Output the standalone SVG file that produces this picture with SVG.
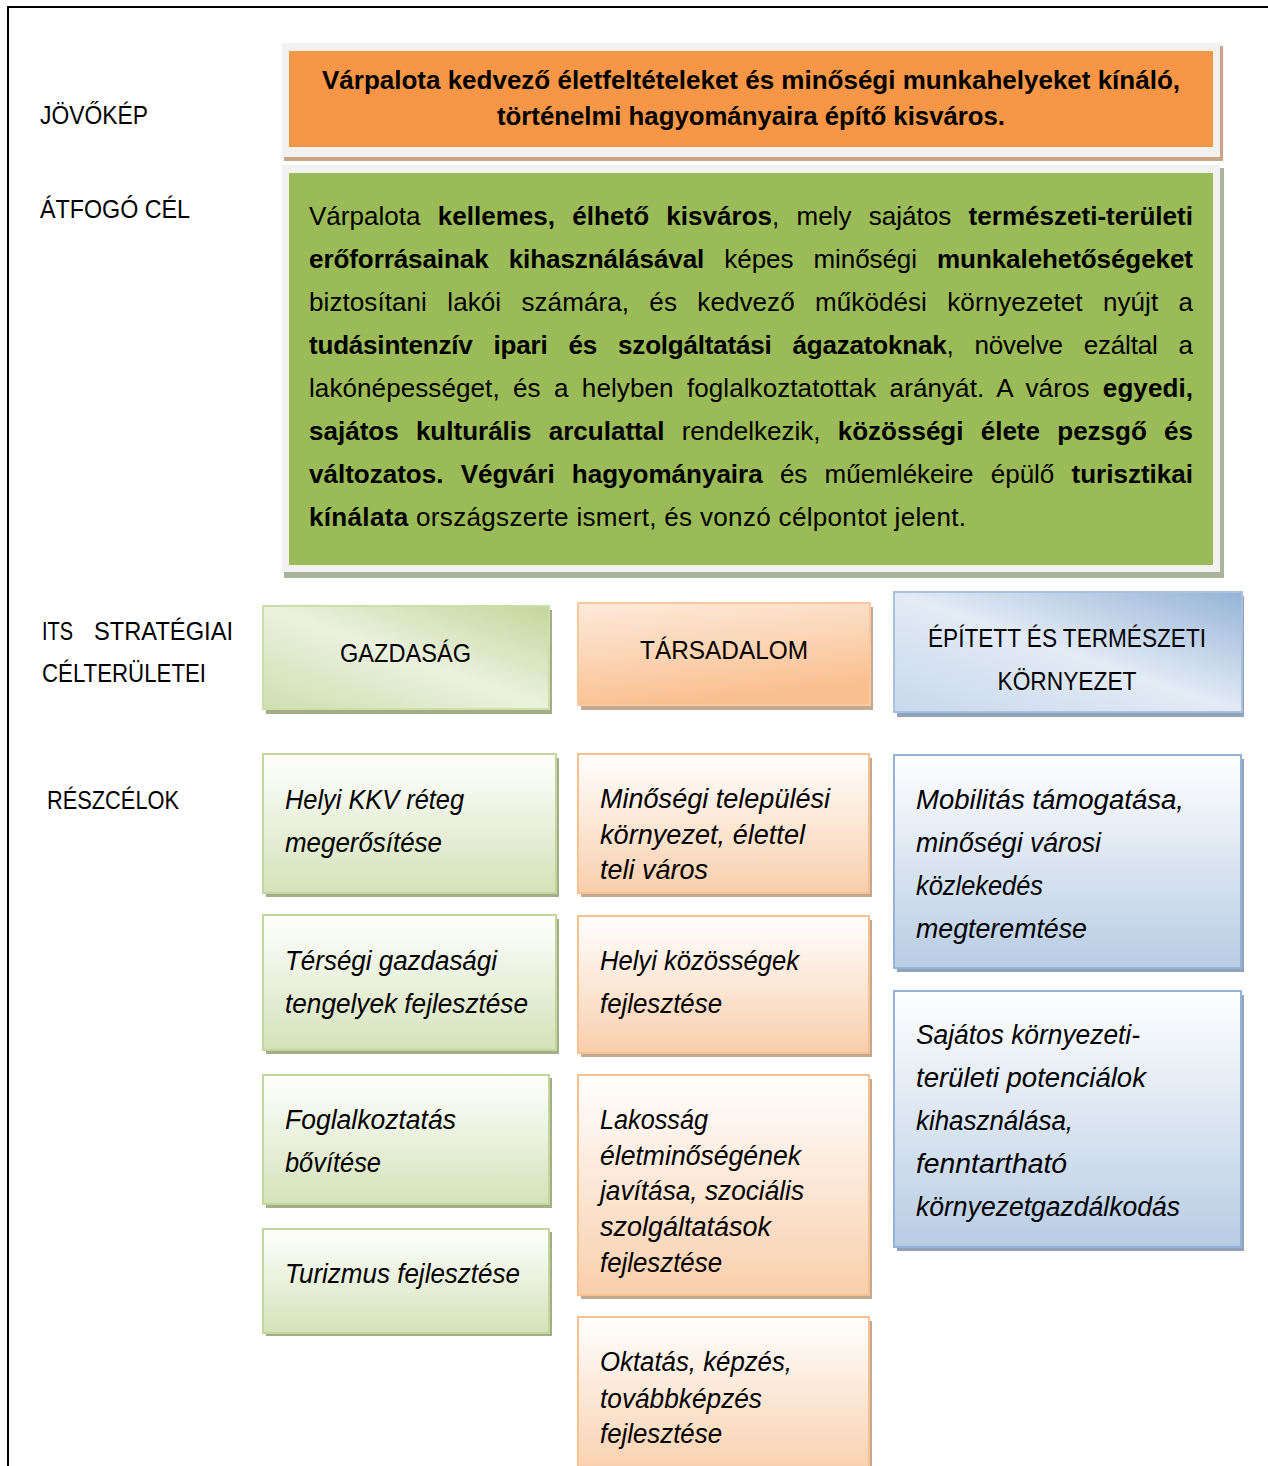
<svg xmlns="http://www.w3.org/2000/svg" width="1268" height="1466" viewBox="0 0 1268 1466">
<style>
text{font-family:"Liberation Sans",Arial,sans-serif;fill:#000}
.lbl{font-size:26px}
.ttl{font-size:25px;font-weight:bold}
.par{font-size:26px}
.b{font-weight:bold}
.cat{font-size:26px}
.it{font-size:27px;font-style:italic}
.gbox{fill:url(#gSub);stroke:#c3d69b;stroke-width:2}
.obox{fill:url(#oSub);stroke:#fac08f;stroke-width:2}
.bbox{fill:url(#bSub);stroke:#95b3d7;stroke-width:2}
.gsh{fill:#a3ad8a}
.osh{fill:#c3a892}
.bsh{fill:#92a2ba}
</style>
<defs>
<linearGradient id="gSub" x1="0" y1="0" x2="0" y2="1"><stop offset="0" stop-color="#ffffff"/><stop offset="1" stop-color="#d4e2b9"/></linearGradient>
<linearGradient id="oSub" x1="0" y1="0" x2="0" y2="1"><stop offset="0" stop-color="#ffffff"/><stop offset="1" stop-color="#f9cfac"/></linearGradient>
<linearGradient id="bSub" x1="0" y1="0" x2="0" y2="1"><stop offset="0" stop-color="#ffffff"/><stop offset="1" stop-color="#b8cce4"/></linearGradient>
<linearGradient id="gCat" x1="0" y1="1" x2="1" y2="0"><stop offset="0" stop-color="#cfdfb1"/><stop offset="0.5" stop-color="#ebf1de"/><stop offset="1" stop-color="#c3d69b"/></linearGradient>
<linearGradient id="oCat" x1="0" y1="0" x2="0.3" y2="1"><stop offset="0" stop-color="#fdeadb"/><stop offset="0.5" stop-color="#fcd6b7"/><stop offset="1" stop-color="#fabf8f"/></linearGradient>
<linearGradient id="bCat" x1="0" y1="1" x2="1" y2="0"><stop offset="0" stop-color="#c8d8ec"/><stop offset="0.5" stop-color="#e3ebf5"/><stop offset="1" stop-color="#95b3d7"/></linearGradient>
</defs>
<rect x="0" y="0" width="1268" height="1466" fill="#ffffff"/>
<path d="M8 1466 V7 H1268" fill="none" stroke="#000" stroke-width="2"/>

<g id="labels">
<text class="lbl" x="40" y="124" textLength="108" lengthAdjust="spacingAndGlyphs">JÖVŐKÉP</text>
<text class="lbl" x="40" y="218" textLength="150" lengthAdjust="spacingAndGlyphs">ÁTFOGÓ CÉL</text>
<text class="lbl" x="42" y="640" textLength="31" lengthAdjust="spacingAndGlyphs">ITS</text>
<text class="lbl" x="94" y="640" textLength="139" lengthAdjust="spacingAndGlyphs">STRATÉGIAI</text>
<text class="lbl" x="42" y="682" textLength="164" lengthAdjust="spacingAndGlyphs">CÉLTERÜLETEI</text>
<text class="lbl" x="47" y="809" textLength="132" lengthAdjust="spacingAndGlyphs">RÉSZCÉLOK</text>
</g>

<g id="vision">
<rect x="284" y="46" width="939" height="115" fill="#c9a486"/>
<rect x="282" y="43" width="938" height="114" fill="#f2f2f2"/>
<rect x="289" y="51" width="924" height="96" fill="#f79646"/>
<text class="ttl" x="751" y="89" text-anchor="middle" textLength="858" lengthAdjust="spacingAndGlyphs">Várpalota kedvező életfeltételeket és minőségi munkahelyeket kínáló,</text>
<text class="ttl" x="751" y="125" text-anchor="middle" textLength="508" lengthAdjust="spacingAndGlyphs">történelmi hagyományaira építő kisváros.</text>
</g>

<g id="goal">
<rect x="284" y="168" width="940" height="410" fill="#aab49a"/>
<rect x="282" y="165" width="938" height="407" fill="#f2f2f2"/>
<rect x="289" y="173" width="924" height="392" fill="#9bbb59"/>
<text class="par" x="309" y="225" textLength="884" lengthAdjust="spacing" style="word-spacing:10px">Várpalota <tspan class="b">kellemes, élhető kisváros</tspan>, mely sajátos <tspan class="b">természeti-területi</tspan></text>
<text class="par" x="309" y="268" textLength="884" lengthAdjust="spacing" style="word-spacing:13px"><tspan class="b">erőforrásainak kihasználásával</tspan> képes minőségi <tspan class="b">munkalehetőségeket</tspan></text>
<text class="par" x="309" y="311" textLength="884" lengthAdjust="spacing" style="word-spacing:13px">biztosítani lakói számára, és kedvező működési környezetet nyújt a</text>
<text class="par" x="309" y="354" textLength="884" lengthAdjust="spacing" style="word-spacing:14px"><tspan class="b">tudásintenzív ipari és szolgáltatási ágazatoknak</tspan>, növelve ezáltal a</text>
<text class="par" x="309" y="397" textLength="884" lengthAdjust="spacing" style="word-spacing:6px">lakónépességet, és a helyben foglalkoztatottak arányát. A város <tspan class="b">egyedi,</tspan></text>
<text class="par" x="309" y="440" textLength="884" lengthAdjust="spacing" style="word-spacing:10px"><tspan class="b">sajátos kulturális arculattal</tspan> rendelkezik, <tspan class="b">közösségi élete pezsgő és</tspan></text>
<text class="par" x="309" y="483" textLength="884" lengthAdjust="spacing" style="word-spacing:10px"><tspan class="b">változatos. Végvári hagyományaira</tspan> és műemlékeire épülő <tspan class="b">turisztikai</tspan></text>
<text class="par" x="309" y="526" textLength="657" lengthAdjust="spacing"><tspan class="b">kínálata</tspan> országszerte ismert, és vonzó célpontot jelent.</text>
</g>

<g id="cat-gazdasag">
<rect class="gsh" x="266" y="610" width="286" height="104"/>
<rect x="263" y="606" width="286" height="103" fill="url(#gCat)" stroke="#cddfa9" stroke-width="2"/>
<text class="cat" x="405.5" y="662" text-anchor="middle" textLength="131" lengthAdjust="spacingAndGlyphs">GAZDASÁG</text>
</g>
<g id="cat-tarsadalom">
<rect class="osh" x="581" y="607" width="292" height="103"/>
<rect x="578" y="603" width="292" height="102" fill="url(#oCat)" stroke="#fbc89e" stroke-width="2"/>
<text class="cat" x="724" y="659" text-anchor="middle" textLength="168" lengthAdjust="spacingAndGlyphs">TÁRSADALOM</text>
</g>
<g id="cat-kornyezet">
<rect class="bsh" x="897" y="596" width="347" height="121"/>
<rect x="894" y="592" width="348" height="120" fill="url(#bCat)" stroke="#a9c1df" stroke-width="2"/>
<text class="cat" x="1067" y="647" text-anchor="middle" textLength="278" lengthAdjust="spacingAndGlyphs">ÉPÍTETT ÉS TERMÉSZETI</text>
<text class="cat" x="1067" y="690" text-anchor="middle" textLength="139" lengthAdjust="spacingAndGlyphs">KÖRNYEZET</text>
</g>

<g id="g1">
<rect class="gsh" x="266" y="758" width="293" height="139"/>
<rect class="gbox" x="263" y="754" width="293" height="139"/>
<text class="it" x="285" y="809" textLength="179" lengthAdjust="spacingAndGlyphs">Helyi KKV réteg</text>
<text class="it" x="285" y="852" textLength="157" lengthAdjust="spacingAndGlyphs">megerősítése</text>
</g>
<g id="g2">
<rect class="gsh" x="266" y="919" width="293" height="135"/>
<rect class="gbox" x="263" y="915" width="293" height="135"/>
<text class="it" x="285" y="970" textLength="212" lengthAdjust="spacingAndGlyphs">Térségi gazdasági</text>
<text class="it" x="285" y="1013" textLength="243" lengthAdjust="spacingAndGlyphs">tengelyek fejlesztése</text>
</g>
<g id="g3">
<rect class="gsh" x="266" y="1078" width="286" height="130"/>
<rect class="gbox" x="263" y="1075" width="286" height="129"/>
<text class="it" x="285" y="1129" textLength="171" lengthAdjust="spacingAndGlyphs">Foglalkoztatás</text>
<text class="it" x="285" y="1172" textLength="96" lengthAdjust="spacingAndGlyphs">bővítése</text>
</g>
<g id="g4">
<rect class="gsh" x="266" y="1232" width="286" height="104"/>
<rect class="gbox" x="263" y="1229" width="286" height="104"/>
<text class="it" x="285" y="1283" textLength="235" lengthAdjust="spacingAndGlyphs">Turizmus fejlesztése</text>
</g>

<g id="o1">
<rect class="osh" x="581" y="758" width="291" height="139"/>
<rect class="obox" x="578" y="754" width="291" height="139"/>
<text class="it" x="600" y="808" textLength="230" lengthAdjust="spacingAndGlyphs">Minőségi települési</text>
<text class="it" x="600" y="844" textLength="205" lengthAdjust="spacingAndGlyphs">környezet, élettel</text>
<text class="it" x="600" y="879" textLength="108" lengthAdjust="spacingAndGlyphs">teli város</text>
</g>
<g id="o2">
<rect class="osh" x="581" y="920" width="291" height="137"/>
<rect class="obox" x="578" y="916" width="291" height="137"/>
<text class="it" x="600" y="970" textLength="199" lengthAdjust="spacingAndGlyphs">Helyi közösségek</text>
<text class="it" x="600" y="1013" textLength="122" lengthAdjust="spacingAndGlyphs">fejlesztése</text>
</g>
<g id="o3">
<rect class="osh" x="581" y="1079" width="291" height="220"/>
<rect class="obox" x="578" y="1075" width="291" height="220"/>
<text class="it" x="600" y="1129" textLength="108" lengthAdjust="spacingAndGlyphs">Lakosság</text>
<text class="it" x="600" y="1165" textLength="201" lengthAdjust="spacingAndGlyphs">életminőségének</text>
<text class="it" x="600" y="1200" textLength="204" lengthAdjust="spacingAndGlyphs">javítása, szociális</text>
<text class="it" x="600" y="1236" textLength="171" lengthAdjust="spacingAndGlyphs">szolgáltatások</text>
<text class="it" x="600" y="1272" textLength="122" lengthAdjust="spacingAndGlyphs">fejlesztése</text>
</g>
<g id="o4">
<rect class="osh" x="581" y="1321" width="291" height="160"/>
<rect class="obox" x="578" y="1317" width="291" height="160"/>
<text class="it" x="600" y="1371" textLength="192" lengthAdjust="spacingAndGlyphs">Oktatás, képzés,</text>
<text class="it" x="600" y="1408" textLength="162" lengthAdjust="spacingAndGlyphs">továbbképzés</text>
<text class="it" x="600" y="1443" textLength="122" lengthAdjust="spacingAndGlyphs">fejlesztése</text>
</g>

<g id="b1">
<rect class="bsh" x="897" y="759" width="347" height="213"/>
<rect class="bbox" x="894" y="755" width="347" height="213"/>
<text class="it" x="916" y="809" textLength="268" lengthAdjust="spacingAndGlyphs">Mobilitás támogatása,</text>
<text class="it" x="916" y="852" textLength="185" lengthAdjust="spacingAndGlyphs">minőségi városi</text>
<text class="it" x="916" y="895" textLength="127" lengthAdjust="spacingAndGlyphs">közlekedés</text>
<text class="it" x="916" y="938" textLength="171" lengthAdjust="spacingAndGlyphs">megteremtése</text>
</g>
<g id="b2">
<rect class="bsh" x="897" y="995" width="347" height="256"/>
<rect class="bbox" x="894" y="991" width="347" height="256"/>
<text class="it" x="916" y="1044" textLength="224" lengthAdjust="spacingAndGlyphs">Sajátos környezeti-</text>
<text class="it" x="916" y="1087" textLength="230" lengthAdjust="spacingAndGlyphs">területi potenciálok</text>
<text class="it" x="916" y="1130" textLength="157" lengthAdjust="spacingAndGlyphs">kihasználása,</text>
<text class="it" x="916" y="1173" textLength="151" lengthAdjust="spacingAndGlyphs">fenntartható</text>
<text class="it" x="916" y="1216" textLength="264" lengthAdjust="spacingAndGlyphs">környezetgazdálkodás</text>
</g>
<g id="connectors"></g>
</svg>
